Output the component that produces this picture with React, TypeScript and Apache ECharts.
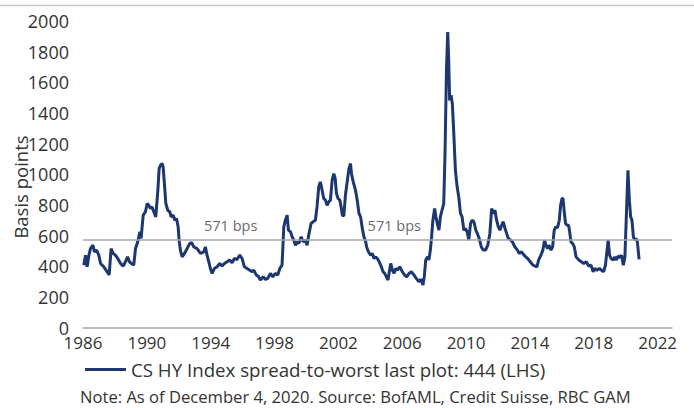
import React, { useEffect, useRef } from "react";
import * as echarts from "echarts";

const dates: number[] = [
  1986.05, 1986.16, 1986.26, 1986.37, 1986.47, 1986.62, 1986.72, 1986.85, 1986.99, 1987.1,
  1987.3, 1987.51, 1987.64, 1987.76, 1987.89, 1988.03, 1988.18, 1988.35, 1988.52, 1988.66,
  1988.79, 1988.91, 1989.08, 1989.18, 1989.29, 1989.43, 1989.56, 1989.64, 1989.77, 1989.91,
  1990.02, 1990.12, 1990.23, 1990.33, 1990.44, 1990.56, 1990.69, 1990.77, 1990.85, 1990.96,
  1991.02, 1991.1, 1991.19, 1991.31, 1991.44, 1991.52, 1991.65, 1991.75, 1991.86, 1991.96,
  1992.02, 1992.1, 1992.21, 1992.36, 1992.52, 1992.67, 1992.8, 1992.94, 1993.15, 1993.36,
  1993.57, 1993.67, 1993.77, 1993.88, 1993.98, 1994.09, 1994.23, 1994.4, 1994.57, 1994.71,
  1994.86, 1995.03, 1995.19, 1995.34, 1995.48, 1995.65, 1995.82, 1995.97, 1996.11, 1996.28,
  1996.45, 1996.59, 1996.7, 1996.86, 1997.01, 1997.11, 1997.28, 1997.43, 1997.57, 1997.74,
  1997.89, 1998.05, 1998.2, 1998.33, 1998.47, 1998.58, 1998.68, 1998.79, 1998.87, 1999.0,
  1999.1, 1999.21, 1999.31, 1999.42, 1999.52, 1999.67, 1999.79, 1999.93, 2000.04, 2000.14,
  2000.29, 2000.41, 2000.56, 2000.66, 2000.77, 2000.87, 2000.96, 2001.08, 2001.19, 2001.29,
  2001.4, 2001.5, 2001.61, 2001.71, 2001.8, 2001.88, 2001.98, 2002.09, 2002.17, 2002.25,
  2002.34, 2002.44, 2002.55, 2002.66, 2002.76, 2002.82, 2002.93, 2003.07, 2003.18, 2003.29,
  2003.39, 2003.5, 2003.6, 2003.71, 2003.77, 2003.88, 2004.02, 2004.13, 2004.23, 2004.34,
  2004.48, 2004.65, 2004.8, 2004.9, 2005.01, 2005.11, 2005.19, 2005.28, 2005.38, 2005.49,
  2005.59, 2005.7, 2005.84, 2006.01, 2006.15, 2006.28, 2006.43, 2006.57, 2006.74, 2006.88,
  2007.03, 2007.17, 2007.3, 2007.38, 2007.47, 2007.59, 2007.67, 2007.76, 2007.84, 2007.92,
  2008.03, 2008.11, 2008.22, 2008.3, 2008.39, 2008.49, 2008.6, 2008.68, 2008.77, 2008.85,
  2008.91, 2008.97, 2009.06, 2009.14, 2009.23, 2009.33, 2009.44, 2009.54, 2009.65, 2009.75,
  2009.86, 2009.96, 2010.07, 2010.17, 2010.28, 2010.38, 2010.49, 2010.61, 2010.7, 2010.82,
  2010.95, 2011.07, 2011.22, 2011.36, 2011.49, 2011.6, 2011.7, 2011.81, 2011.91, 2012.02,
  2012.12, 2012.23, 2012.33, 2012.44, 2012.54, 2012.65, 2012.8, 2012.9, 2013.05, 2013.22,
  2013.32, 2013.47, 2013.63, 2013.74, 2013.86, 2014.02, 2014.19, 2014.33, 2014.44, 2014.54,
  2014.69, 2014.81, 2014.92, 2015.0, 2015.11, 2015.19, 2015.32, 2015.42, 2015.52, 2015.63,
  2015.73, 2015.84, 2015.92, 2016.01, 2016.07, 2016.15, 2016.23, 2016.32, 2016.42, 2016.49,
  2016.57, 2016.68, 2016.78, 2016.89, 2017.06, 2017.22, 2017.37, 2017.53, 2017.68, 2017.83,
  2017.96, 2018.06, 2018.2, 2018.35, 2018.48, 2018.62, 2018.73, 2018.81, 2018.9, 2018.99,
  2019.09, 2019.22, 2019.32, 2019.43, 2019.51, 2019.64, 2019.74, 2019.85, 2019.95, 2020.06,
  2020.14, 2020.23, 2020.31, 2020.39, 2020.48, 2020.56, 2020.64, 2020.73, 2020.84,
];

const spreads: number[] = [
  407, 472, 396, 472, 515, 537, 494, 505, 472, 418,
  396, 364, 343, 515, 483, 472, 450, 418, 401, 429,
  461, 429, 414, 407, 515, 559, 624, 581, 733, 754,
  809, 798, 777, 787, 754, 722, 896, 1037, 1059, 1070,
  1048, 939, 809, 765, 754, 722, 733, 700, 711, 657,
  570, 505, 461, 483, 515, 545, 555, 526, 515, 483,
  494, 526, 472, 429, 385, 353, 385, 396, 418, 401,
  418, 429, 440, 422, 450, 444, 472, 450, 396, 385,
  374, 364, 374, 342, 331, 309, 331, 314, 320, 353,
  331, 353, 342, 385, 407, 657, 700, 733, 635, 624,
  592, 570, 537, 559, 548, 592, 559, 570, 537, 603,
  679, 690, 700, 787, 918, 950, 907, 842, 831, 798,
  820, 831, 961, 1004, 972, 874, 842, 831, 787, 733,
  727, 863, 950, 1037, 1070, 1004, 950, 896, 831, 744,
  722, 646, 592, 559, 526, 494, 472, 483, 450, 461,
  444, 407, 364, 353, 331, 309, 364, 418, 374, 353,
  385, 374, 396, 364, 342, 331, 353, 364, 342, 320,
  299, 314, 277, 331, 440, 461, 440, 505, 592, 700,
  776, 722, 668, 635, 722, 765, 809, 1135, 1678, 1928,
  1743, 1482, 1515, 1460, 1265, 1026, 918, 852, 744, 722,
  635, 646, 624, 570, 679, 700, 690, 635, 614, 581,
  527, 505, 505, 537, 614, 776, 744, 765, 700, 657,
  635, 668, 690, 646, 614, 581, 570, 559, 527, 505,
  483, 494, 472, 461, 450, 429, 407, 401, 396, 440,
  472, 505, 570, 537, 515, 537, 505, 526, 635, 657,
  652, 700, 798, 842, 842, 754, 679, 668, 668, 624,
  559, 548, 526, 461, 440, 429, 418, 429, 401, 407,
  364, 385, 374, 385, 374, 364, 407, 483, 570, 472,
  450, 440, 461, 440, 466, 457, 472, 407, 461, 787,
  1026, 831, 722, 700, 592, 570, 581, 559, 444,
];

const averageSpread = 571;
const averageLabelYears: number[] = [1995.25, 2005.5];
const xTickStart = 1986;
const xTickStep = 4;
const xMax = 2022.9;
const yMax = 2000;
const yStep = 200;

const seriesName = "CS HY Index spread-to-worst last plot: 444 (LHS)";
const yAxisTitle = "Basis points";
const noteText = "Note: As of December 4, 2020. Source: BofAML, Credit Suisse, RBC GAM";

const FONT = "Open Sans";
const TEXT = "#333333";
const NAVY = "#1d3770";

export default function App() {
  const ref = useRef<HTMLDivElement>(null);

  useEffect(() => {
    document.body.style.margin = "0";
    if (!ref.current) return;
    const chart = echarts.init(ref.current, undefined, { renderer: "svg" });
    const lineData = dates.map((d, i) => [d, spreads[i]]);
    chart.setOption({
      animation: false,
      textStyle: { fontFamily: FONT },
      grid: { left: 83, right: 22, top: 21, bottom: 80.5, containLabel: false },
      legend: {
        left: 80,
        top: 355,
        itemWidth: 41,
        itemHeight: 3,
        icon: "rect",
        textStyle: { fontFamily: FONT, fontSize: 18.7, color: TEXT },
        data: [seriesName],
      },
      xAxis: {
        type: "value",
        min: xTickStart,
        max: xMax,
        interval: xTickStep,
        axisLine: { show: true, lineStyle: { color: "#a9a9a9", width: 1.5 } },
        axisTick: { show: false },
        splitLine: { show: false },
        axisLabel: {
          showMaxLabel: false,
          margin: 8.5,
          lineHeight: 13,
          fontFamily: FONT,
          fontSize: 17,
          color: TEXT,
          formatter: (v: number) => String(Math.round(v)),
        },
      },
      yAxis: {
        type: "value",
        min: 0,
        max: yMax,
        interval: yStep,
        axisLine: { show: false },
        axisTick: { show: false },
        splitLine: { show: false },
        axisLabel: {
          margin: 14,
          lineHeight: 13,
          fontFamily: FONT,
          fontSize: 18,
          color: TEXT,
          formatter: (v: number) => String(v),
        },
      },
      series: [
        {
          name: seriesName,
          type: "line",
          data: lineData,
          showSymbol: false,
          symbol: "none",
          lineStyle: { color: NAVY, width: 3 },
          itemStyle: { color: NAVY },
          z: 3,
          markLine: {
            silent: true,
            symbol: "none",
            label: { show: false },
            lineStyle: { color: "#a6a6a6", width: 1.5, type: "solid" },
            data: [{ yAxis: averageSpread }],
          },
        },
        {
          name: "avg-labels",
          type: "scatter",
          data: averageLabelYears.map((y) => [y, averageSpread]),
          symbolSize: 0,
          silent: true,
          z: 4,
          label: {
            show: true,
            position: "top",
            distance: 7,
            formatter: () => `${averageSpread} bps`,
            fontFamily: FONT,
            fontSize: 14.5,
            color: "#404040",
          },
        },
      ],
      graphic: [
        {
          type: "line",
          shape: { x1: 0, y1: 5.5, x2: 694, y2: 5.5 },
          style: { stroke: "#c3c9d4", lineWidth: 1.5 },
          silent: true,
        },
        {
          type: "text",
          x: 20,
          y: 187,
          rotation: Math.PI / 2,
          style: {
            text: yAxisTitle,
            fontFamily: FONT,
            fontSize: 18.5,
            fill: TEXT,
            align: "center",
            verticalAlign: "middle",
          },
          silent: true,
        },
        {
          type: "text",
          left: 80,
          top: 388,
          style: { text: noteText, fontFamily: FONT, fontSize: 16.6, fill: TEXT },
          silent: true,
        },
      ],
    });
    return () => chart.dispose();
  }, []);

  return <div ref={ref} style={{ width: 694, height: 408 }} />;
}
